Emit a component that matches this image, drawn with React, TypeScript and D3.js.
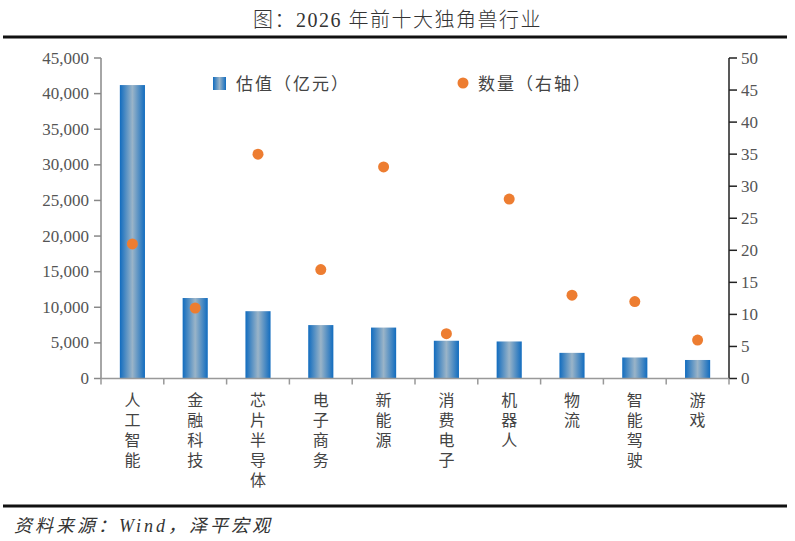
import React from "react";
import * as d3 from "d3";

const categories = ["人工智能", "金融科技", "芯片半导体", "电子商务", "新能源", "消费电子", "机器人", "物流", "智能驾驶", "游戏"];
const valuations = [41200, 11300, 9450, 7500, 7150, 5300, 5200, 3600, 2950, 2600];
const counts = [21, 11, 35, 17, 33, 7, 28, 13, 12, 6];
const leftTicks = [0, 5000, 10000, 15000, 20000, 25000, 30000, 35000, 40000, 45000];
const rightTicks = [0, 5, 10, 15, 20, 25, 30, 35, 40, 45, 50];

const W = 795;
const H = 541;
const plot = { left: 101, right: 729, top: 58, bottom: 378.5 };
const serif = "'Liberation Serif', 'DejaVu Serif', serif";
const cjk = "'Noto Sans CJK SC', 'Liberation Serif', serif";

export default function App() {
  const x = d3.scaleBand<string>().domain(categories).range([plot.left, plot.right]);
  const yL = d3.scaleLinear().domain([0, 45000]).range([plot.bottom, plot.top]);
  const yR = d3.scaleLinear().domain([0, 50]).range([plot.bottom, plot.top]);
  const fmt = d3.format(",");
  const bw = x.bandwidth() * 0.4;
  const boundaries = d3.range(categories.length + 1).map((i) => plot.left + i * x.step());

  return (
    <svg width={W} height={H} style={{ position: "absolute", left: 0, top: 0, background: "#fff" }}>
      <defs>
        <linearGradient id="barGrad" x1="0" x2="1" y1="0" y2="0">
          <stop offset="0" stopColor="#116cbf" />
          <stop offset="0.5" stopColor="#9ab4c8" />
          <stop offset="1" stopColor="#116cbf" />
        </linearGradient>
      </defs>
      <rect x={0} y={0} width={W} height={H} fill="#fff" />
      <text x={W / 2} y={27} textAnchor="middle" fontFamily={cjk} fontSize={20} fill="#333" letterSpacing={1.5} fontWeight={300}>
        图：<tspan fontFamily={serif}>2026 </tspan>年前十大独角兽行业
      </text>
      <line x1={3} x2={787} y1={37} y2={37} stroke="#111" strokeWidth={3} />

      {/* bars */}
      {categories.map((c, i) => (
        <rect
          key={c}
          x={(x(c) as number) + (x.bandwidth() - bw) / 2}
          y={yL(valuations[i])}
          width={bw}
          height={plot.bottom - yL(valuations[i])}
          fill="url(#barGrad)"
        />
      ))}
      {/* dots */}
      {categories.map((c, i) => (
        <circle key={c} cx={(x(c) as number) + x.bandwidth() / 2} cy={yR(counts[i])} r={5.5} fill="#ed7d31" />
      ))}

      {/* left axis */}
      <line x1={plot.left} x2={plot.left} y1={plot.top} y2={plot.bottom} stroke="#888" strokeWidth={1.5} />
      {leftTicks.map((t) => (
        <g key={t}>
          <line x1={plot.left - 7} x2={plot.left} y1={yL(t)} y2={yL(t)} stroke="#888" strokeWidth={1.5} />
          <text x={plot.left - 12} y={yL(t) + 5.5} textAnchor="end" fontFamily={serif} fontSize={17} fill="#555">
            {fmt(t)}
          </text>
        </g>
      ))}
      {/* right axis */}
      <line x1={plot.right} x2={plot.right} y1={plot.top} y2={plot.bottom} stroke="#222" strokeWidth={1.5} />
      {rightTicks.map((t) => (
        <g key={t}>
          <line x1={plot.right} x2={plot.right + 8} y1={yR(t)} y2={yR(t)} stroke="#222" strokeWidth={1.5} />
          <text x={plot.right + 12} y={yR(t) + 5.5} textAnchor="start" fontFamily={serif} fontSize={17} fill="#555">
            {t}
          </text>
        </g>
      ))}
      {/* x axis */}
      <line x1={plot.left} x2={plot.right} y1={plot.bottom} y2={plot.bottom} stroke="#999" strokeWidth={1.5} />
      {boundaries.map((b, i) => (
        <line key={i} x1={b} x2={b} y1={plot.bottom} y2={plot.bottom + 6} stroke="#999" strokeWidth={1.5} />
      ))}
      {categories.map((c) => (
        <text
          key={c}
          x={(x(c) as number) + x.bandwidth() / 2}
          y={392}
          fontFamily={cjk}
          fontSize={16}
          fill="#444"
          letterSpacing={4}
          style={{ writingMode: "vertical-rl" }}
        >
          {c}
        </text>
      ))}

      {/* legend */}
      <rect x={213} y={77} width={13} height={13} fill="url(#barGrad)" />
      <text x={236} y={90} fontFamily={cjk} fontSize={17} fill="#444" letterSpacing={2}>估值（亿元）</text>
      <circle cx={463} cy={83} r={5.5} fill="#ed7d31" />
      <text x={478} y={90} fontFamily={cjk} fontSize={17} fill="#444" letterSpacing={2}>数量（右轴）</text>

      <line x1={3} x2={787} y1={506} y2={506} stroke="#111" strokeWidth={3} />
      <text x={14} y={532} fontFamily={cjk} fontSize={18} fontStyle="italic" fill="#333" letterSpacing={3}>
        资料来源：<tspan fontFamily={serif}>Wind</tspan>，泽平宏观
      </text>
    </svg>
  );
}
